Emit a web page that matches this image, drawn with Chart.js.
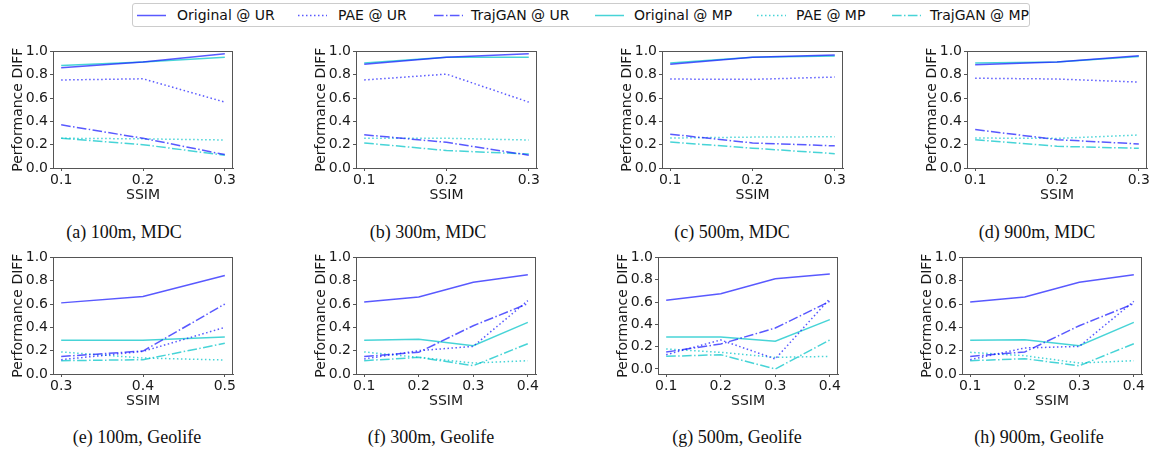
<!DOCTYPE html>
<html><head><meta charset="utf-8">
<script src="https://cdn.jsdelivr.net/npm/chart.js@4"></script>
<style>
html,body{margin:0;padding:0;background:#fff;width:1151px;height:451px;overflow:hidden;position:relative;font-family:"DejaVu Sans",sans-serif;}
canvas.p{position:absolute;}
.cap{position:absolute;font-family:"Liberation Serif",serif;font-size:18px;color:#111;white-space:nowrap;transform:translateX(-50%);}
#legend{position:absolute;left:132px;top:3px;width:896px;height:22px;border:1px solid #ccc;border-radius:3px;}
.li{position:absolute;top:0;height:22px;line-height:22px;font-size:14px;color:#111;white-space:nowrap;}
.ls{position:absolute;top:0;}
</style>
</head><body>
<div id="legend"></div>
<script>
// ---------- tick labels ----------
const yTicks = [0.0, 0.2, 0.4, 0.6, 0.8, 1.0];
const xTicksMDC = [0.1, 0.2, 0.3];
const xTicksGeo100 = [0.3, 0.4, 0.5];
const xTicksGeo = [0.1, 0.2, 0.3, 0.4];

// ---------- series names ----------
const seriesNames = ["Original @ UR", "PAE @ UR", "TrajGAN @ UR", "Original @ MP", "PAE @ MP", "TrajGAN @ MP"];
const captions = ["(a) 100m, MDC", "(b) 300m, MDC", "(c) 500m, MDC", "(d) 900m, MDC",
                  "(e) 100m, Geolife", "(f) 300m, Geolife", "(g) 500m, Geolife", "(h) 900m, Geolife"];

// ---------- (a) 100m MDC ----------
const a_origUR = [0.86, 0.91, 0.98];
const a_paeUR  = [0.755, 0.765, 0.565];
const a_ganUR  = [0.37, 0.255, 0.115];
const a_origMP = [0.88, 0.91, 0.95];
const a_paeMP  = [0.255, 0.25, 0.24];
const a_ganMP  = [0.255, 0.20, 0.11];
// ---------- (b) 300m MDC ----------
const b_origUR = [0.89, 0.95, 0.98];
const b_paeUR  = [0.755, 0.805, 0.565];
const b_ganUR  = [0.285, 0.22, 0.11];
const b_origMP = [0.90, 0.95, 0.95];
const b_paeMP  = [0.255, 0.255, 0.24];
const b_ganMP  = [0.215, 0.15, 0.12];
// ---------- (c) 500m MDC ----------
const c_origUR = [0.89, 0.95, 0.97];
const c_paeUR  = [0.763, 0.76, 0.78];
const c_ganUR  = [0.29, 0.215, 0.19];
const c_origMP = [0.90, 0.95, 0.96];
const c_paeMP  = [0.257, 0.265, 0.268];
const c_ganMP  = [0.223, 0.17, 0.123];
// ---------- (d) 900m MDC ----------
const d_origUR = [0.886, 0.91, 0.963];
const d_paeUR  = [0.77, 0.763, 0.737];
const d_ganUR  = [0.33, 0.243, 0.206];
const d_origMP = [0.90, 0.91, 0.957];
const d_paeMP  = [0.257, 0.254, 0.283];
const d_ganMP  = [0.243, 0.186, 0.169];
// ---------- (e) 100m Geolife ----------
const e_origUR = [0.61, 0.665, 0.845];
const e_paeUR  = [0.123, 0.194, 0.40];
const e_ganUR  = [0.15, 0.197, 0.60];
const e_origMP = [0.289, 0.289, 0.317];
const e_paeMP  = [0.189, 0.137, 0.12];
const e_ganMP  = [0.114, 0.123, 0.263];
// ---------- (f) 300m Geolife ----------
const f_origUR = [0.617, 0.66, 0.786, 0.851];
const f_paeUR  = [0.129, 0.20, 0.237, 0.629];
const f_ganUR  = [0.151, 0.186, 0.414, 0.603];
const f_origMP = [0.289, 0.297, 0.243, 0.443];
const f_paeMP  = [0.189, 0.143, 0.094, 0.114];
const f_ganMP  = [0.114, 0.143, 0.071, 0.26];
// ---------- (g) 500m Geolife ----------
const g_origUR = [0.615, 0.675, 0.809, 0.851];
const g_paeUR  = [0.128, 0.26, 0.09, 0.63];
const g_ganUR  = [0.152, 0.224, 0.367, 0.606];
const g_origMP = [0.287, 0.287, 0.248, 0.442];
const g_paeMP  = [0.179, 0.149, 0.104, 0.113];
const g_ganMP  = [0.113, 0.128, 0.0, 0.26];
// ---------- (h) 900m Geolife ----------
const h_origUR = [0.617, 0.66, 0.786, 0.851];
const h_paeUR  = [0.123, 0.223, 0.237, 0.623];
const h_ganUR  = [0.151, 0.189, 0.414, 0.603];
const h_origMP = [0.289, 0.294, 0.243, 0.443];
const h_paeMP  = [0.186, 0.157, 0.094, 0.114];
const h_ganMP  = [0.114, 0.131, 0.071, 0.26];

// ---------- styles ----------
const UR = 'rgba(25,25,255,0.72)';
const MP = 'rgba(0,195,200,0.72)';
const styles = [
  {color: UR, dash: []},
  {color: UR, dash: [1.5, 2.5]},
  {color: UR, dash: [9.6, 2.4, 1.5, 2.4]},
  {color: MP, dash: []},
  {color: MP, dash: [1.5, 2.5]},
  {color: MP, dash: [9.6, 2.4, 1.5, 2.4]}
];

// ---------- panel layout (plot-area boxes) ----------
const panels = [
  {x: xTicksMDC, s: [a_origUR,a_paeUR,a_ganUR,a_origMP,a_paeMP,a_ganMP], L:53,  R:233,  T:51,  B:168, xmin:0.09, xmax:0.31, ymin:0, cap:124},
  {x: xTicksMDC, s: [b_origUR,b_paeUR,b_ganUR,b_origMP,b_paeMP,b_ganMP], L:356, R:537,  T:51,  B:168, xmin:0.09, xmax:0.31, ymin:0, cap:428},
  {x: xTicksMDC, s: [c_origUR,c_paeUR,c_ganUR,c_origMP,c_paeMP,c_ganMP], L:662, R:843,  T:51,  B:168, xmin:0.09, xmax:0.31, ymin:0, cap:732},
  {x: xTicksMDC, s: [d_origUR,d_paeUR,d_ganUR,d_origMP,d_paeMP,d_ganMP], L:967, R:1147, T:51,  B:168, xmin:0.09, xmax:0.31, ymin:0, cap:1037},
  {x: xTicksGeo100, s: [e_origUR,e_paeUR,e_ganUR,e_origMP,e_paeMP,e_ganMP], L:53,  R:233,  T:257, B:374, xmin:0.29, xmax:0.51, ymin:0, cap:137},
  {x: xTicksGeo, s: [f_origUR,f_paeUR,f_ganUR,f_origMP,f_paeMP,f_ganMP], L:356, R:536,  T:257, B:374, xmin:0.085, xmax:0.415, ymin:0, cap:431},
  {x: xTicksGeo, s: [g_origUR,g_paeUR,g_ganUR,g_origMP,g_paeMP,g_ganMP], L:658, R:838,  T:257, B:374, xmin:0.085, xmax:0.415, ymin:-0.045, cap:737},
  {x: xTicksGeo, s: [h_origUR,h_paeUR,h_ganUR,h_origMP,h_paeMP,h_ganMP], L:962, R:1142, T:257, B:374, xmin:0.085, xmax:0.415, ymin:0, cap:1039}
];
const capY = [222, 222, 222, 222, 427, 427, 427, 427];

const YW = 44, XH = 36, PT = 10, PR = 16;
const frameColor = '#555';
const tickFont = {family: 'DejaVu Sans', size: 14};

const framePlugin = {
  id: 'frame',
  afterDraw(chart) {
    const {ctx, chartArea: a} = chart;
    ctx.save();
    ctx.strokeStyle = frameColor;
    ctx.lineWidth = 1;
    ctx.strokeRect(Math.round(a.left) + 0.5, Math.round(a.top) + 0.5, Math.round(a.right - a.left) - 1, Math.round(a.bottom - a.top));
    ctx.restore();
  }
};

panels.forEach((p, i) => {
  const cv = document.createElement('canvas');
  cv.className = 'p';
  const W = (p.R - p.L) + YW + PR;
  const H = (p.B - p.T) + PT + XH;
  cv.width = W; cv.height = H;
  cv.style.left = (p.L - YW) + 'px';
  cv.style.top = (p.T - PT) + 'px';
  cv.style.width = W + 'px';
  cv.style.height = H + 'px';
  document.body.appendChild(cv);

  const datasets = p.s.map((vals, k) => ({
    label: seriesNames[k],
    data: vals.map((v, j) => ({x: p.x[j], y: v})),
    borderColor: styles[k].color,
    borderDash: styles[k].dash,
    borderWidth: 1.5,
    pointRadius: 0,
    tension: 0,
    fill: false
  }));

  new Chart(cv, {
    type: 'line',
    data: {datasets},
    plugins: [framePlugin],
    options: {
      responsive: false,
      animation: false,
      devicePixelRatio: 1,
      layout: {padding: {top: PT, right: PR, left: 0, bottom: 0}},
      plugins: {legend: {display: false}, tooltip: {enabled: false}},
      scales: {
        x: {
          type: 'linear', min: p.xmin, max: p.xmax,
          afterBuildTicks: (s) => { s.ticks = p.x.map(v => ({value: v})); },
          afterFit: (s) => { s.height = XH; },
          ticks: {font: tickFont, color: '#1a1a1a', padding: 1, maxRotation: 0, autoSkip: false,
                  callback: (v) => Number(v).toFixed(1)},
          grid: {display: true, drawOnChartArea: false, drawTicks: true, tickLength: 3, color: frameColor},
          border: {display: true, color: frameColor, width: 1},
          title: {display: true, text: 'SSIM', font: {family: 'DejaVu Sans', size: 14}, color: '#1a1a1a', padding: {top: 0, bottom: 0}}
        },
        y: {
          type: 'linear', min: p.ymin, max: 1.0,
          afterBuildTicks: (s) => { s.ticks = yTicks.map(v => ({value: v})); },
          afterFit: (s) => { s.width = YW; },
          ticks: {font: tickFont, color: '#1a1a1a', padding: 2, autoSkip: false,
                  callback: (v) => Number(v).toFixed(1)},
          grid: {display: true, drawOnChartArea: false, drawTicks: true, tickLength: 3, color: frameColor},
          border: {display: true, color: frameColor, width: 1},
          title: {display: true, text: 'Performance DIFF', font: {family: 'DejaVu Sans', size: 14}, color: '#1a1a1a', padding: {top: 1, bottom: 0}}
        }
      }
    }
  });

  const cap = document.createElement('div');
  cap.className = 'cap';
  cap.textContent = captions[i];
  cap.style.left = p.cap + 'px';
  cap.style.top = capY[i] + 'px';
  document.body.appendChild(cap);
});

// ---------- legend ----------
const legendPos = [[4, 44], [165, 205], [301, 338], [462, 501], [624, 663], [759, 797]];
const leg = document.getElementById('legend');
seriesNames.forEach((name, k) => {
  const [sx, tx] = legendPos[k];
  const svgNS = 'http://www.w3.org/2000/svg';
  const svg = document.createElementNS(svgNS, 'svg');
  svg.setAttribute('width', '30'); svg.setAttribute('height', '22');
  svg.setAttribute('class', 'ls');
  svg.style.left = sx + 'px';
  const ln = document.createElementNS(svgNS, 'line');
  ln.setAttribute('x1', '0'); ln.setAttribute('x2', '29');
  ln.setAttribute('y1', '11.5'); ln.setAttribute('y2', '11.5');
  ln.setAttribute('stroke', styles[k].color);
  ln.setAttribute('stroke-width', '1.5');
  if (styles[k].dash.length) ln.setAttribute('stroke-dasharray', styles[k].dash.join(' '));
  svg.appendChild(ln);
  leg.appendChild(svg);
  const t = document.createElement('div');
  t.className = 'li';
  t.style.left = tx + 'px';
  t.textContent = name;
  leg.appendChild(t);
});
</script>
</body></html>
